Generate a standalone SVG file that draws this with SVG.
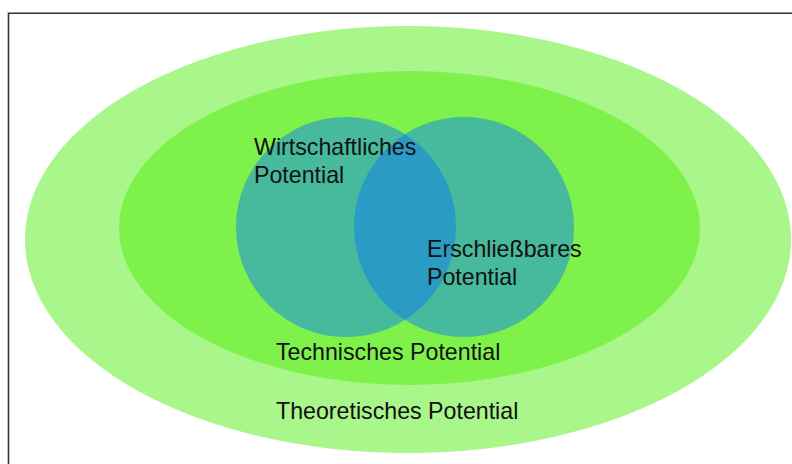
<svg xmlns="http://www.w3.org/2000/svg" width="792" height="464" viewBox="0 0 792 464">
<style>
.lbl{font-family:"Liberation Sans",Arial,sans-serif;font-size:23.2px;fill:#111}
</style>
<rect x="0" y="0" width="792" height="464" fill="#fff"/>
<path d="M8.5,464 V13.3 H792" fill="none" stroke="#333" stroke-width="1.6"/>
<g id="theoretisch">
<ellipse cx="408" cy="239.5" rx="383" ry="213.5" fill="#a9f68a"/>
<text class="lbl" x="276" y="418.5">Theoretisches Potential</text>
</g>
<g id="technisch">
<ellipse cx="409.5" cy="228" rx="290.5" ry="157" fill="#7ef24b"/>
<text class="lbl" x="276" y="359.5">Technisches Potential</text>
</g>
<g id="wirtschaftlich">
<circle cx="346" cy="227" r="110" fill="#47b99d"/>
</g>
<g id="erschliessbar">
<circle cx="464" cy="227" r="110" fill="#47b99d"/>
</g>
<g id="overlap">
<path d="M405,134.2 A110,110 0 0 1 405,319.8 A110,110 0 0 1 405,134.2 Z" fill="#2a9bc5"/>
</g>
<g id="labels">
<text class="lbl" x="254" y="154.5">Wirtschaftliches<tspan x="254" y="182.5">Potential</tspan></text>
<text class="lbl" x="427" y="257">Erschließbares<tspan x="427" y="285">Potential</tspan></text>
</g>
<g id="connectors"/>
</svg>
